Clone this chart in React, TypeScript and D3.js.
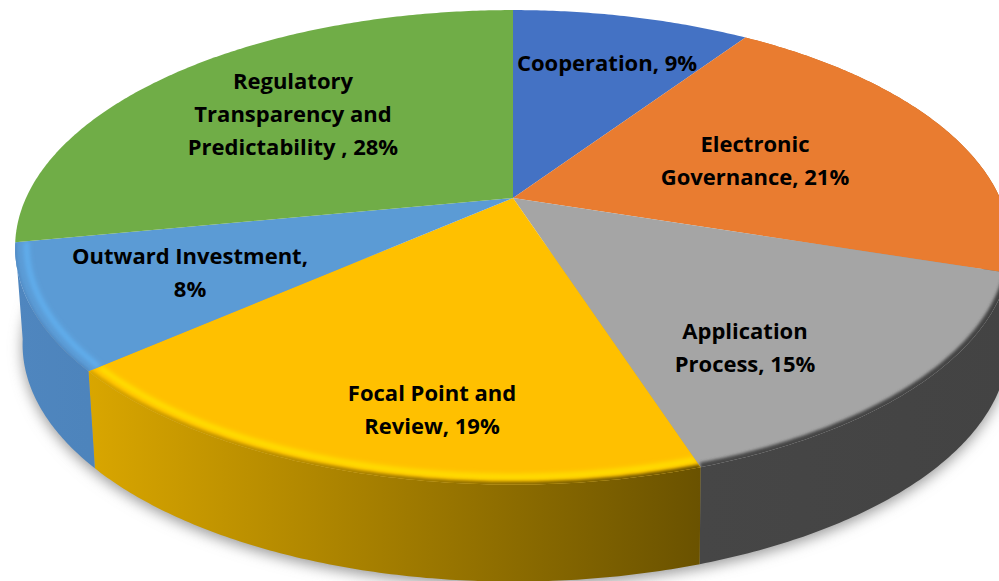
import React from "react";
import * as d3 from "d3";

const categories = ["Cooperation", "Electronic Governance", "Application Process", "Focal Point and Review", "Outward Investment", "Regulatory Transparency and Predictability"];
// Slice sizes (the printed labels round them).
const shares = [9.45, 20.55, 15, 18.55, 8.45, 28];
const labelLines = [
  ["Cooperation, 9%"],
  ["Electronic", "Governance, 21%"],
  ["Application", "Process, 15%"],
  ["Focal Point and", "Review, 19%"],
  ["Outward Investment,", "8%"],
  ["Regulatory", "Transparency and", "Predictability , 28%"],
];
const topColors = ["#4472c4", "#e97c30", "#a5a5a5", "#ffc000", "#5b9bd5", "#70ad47"];
const highlight = [null, null, null, "#ffe600", "#62b4f4", null];
const edgeWidth = [0, 0, 9, 6, 2.5, 0];
const wallStart = ["#3a62a8", "#d06a20", "#464646", "#d9a600", "#4f86bf", "#5f9a3c"];
const wallEnd = ["#3a62a8", "#a85410", "#434343", "#6a5200", "#4d84bc", "#5f9a3c"];
const wallVisible = [false, true, true, true, true, false];
const labelAnchors: [number, number][] = [[607, 63], [755, 160], [745, 347], [432, 409], [190, 272], [293, 114]];

const W = 999, H = 581;
const CX = 513, CY = 198, A = 487, B = 227, P = 0.208;
const DEPTH = 97;

const project = (t: number, r = 1): [number, number] => {
  const u = r * Math.sin(t), v = -r * Math.cos(t), w = 1 - P * v;
  return [CX + (A * u) / w, CY + (B * v) / w];
};
const lower = (t: number): [number, number] => {
  const [x, y] = project(t);
  const k = x > CX ? 0.995 : 0.985;
  return [CX + (x - CX) * k, y + DEPTH];
};
const samples = (a0: number, a1: number) => {
  const n = Math.max(2, Math.ceil((a1 - a0) / 0.01));
  return d3.range(n + 1).map((i) => a0 + ((a1 - a0) * i) / n);
};
const line = d3.line<[number, number]>();
const arcs = d3.pie<number>().sort(null).value((d) => d)(shares);

export default function App() {
  const all = samples(Math.PI * 0.4, Math.PI * 1.55);
  return (
    <svg width={W} height={H} viewBox={`0 0 ${W} ${H}`} style={{ position: "absolute", left: 0, top: 0, display: "block", background: "#fff" }}>
      <defs>
        <filter id="shadow" x="-10%" y="-10%" width="120%" height="120%"><feGaussianBlur stdDeviation="7" /></filter>
        <filter id="glow" x="-10%" y="-10%" width="120%" height="120%"><feGaussianBlur stdDeviation="2.5" /></filter>
        <filter id="edge" x="-10%" y="-10%" width="120%" height="120%"><feGaussianBlur stdDeviation="1.6" /></filter>
        {arcs.map((a, i) => {
          const pts = samples(a.startAngle, a.endAngle).map((t) => project(t));
          const xs = pts.map((p) => p[0]);
          return (
            <React.Fragment key={i}>
              <linearGradient id={`wall${i}`} gradientUnits="userSpaceOnUse" x1={d3.min(xs)} x2={d3.max(xs)} y1={0} y2={0}>
                <stop offset="0" stopColor={wallStart[i]} />
                <stop offset="1" stopColor={wallEnd[i]} />
              </linearGradient>
              <clipPath id={`clip${i}`}>
                <path d={line([[CX, CY], ...pts])! + "Z"} />
              </clipPath>
            </React.Fragment>
          );
        })}
      </defs>
      <path d={line(all.map((t) => { const p = lower(t); return [p[0], p[1] + 4] as [number, number]; }))! + "Z"} fill="#999" filter="url(#shadow)" />
      {arcs.map((a, i) => {
        if (!wallVisible[i]) return null;
        const ts = samples(a.startAngle, a.endAngle);
        return <path key={i} d={line([...ts.map((t) => project(t)), ...ts.slice().reverse().map(lower)])! + "Z"} fill={`url(#wall${i})`} />;
      })}
      {arcs.map((a, i) => {
        const ts = samples(a.startAngle, a.endAngle);
        const pts = ts.map((t) => project(t));
        return (
          <g key={i}>
            <title>{categories[i]}</title>
            <path d={line([[CX, CY], ...pts])! + "Z"} fill={topColors[i]} />
            {highlight[i] && (
              <g clipPath={`url(#clip${i})`}>
                <path d={line(ts.map((t) => project(t, 0.978)))!} fill="none" stroke={highlight[i]!} strokeWidth={4.5} filter="url(#glow)" />
              </g>
            )}
            {edgeWidth[i] > 0 && (
              <g clipPath={`url(#clip${i})`}>
                <path d={line(pts)!} fill="none" stroke={`url(#wall${i})`} strokeWidth={edgeWidth[i]} filter="url(#edge)" />
              </g>
            )}
          </g>
        );
      })}
      {labelLines.map((lines, i) => (
        <text key={i} textAnchor="middle" fontFamily="'Open Sans', sans-serif" fontWeight={700} fontSize={22} fill="#000">
          {lines.map((s, j) => (
            <tspan key={j} x={labelAnchors[i][0]} y={labelAnchors[i][1] + (j - (lines.length - 1) / 2) * 33 + 8}>{s}</tspan>
          ))}
        </text>
      ))}
    </svg>
  );
}
